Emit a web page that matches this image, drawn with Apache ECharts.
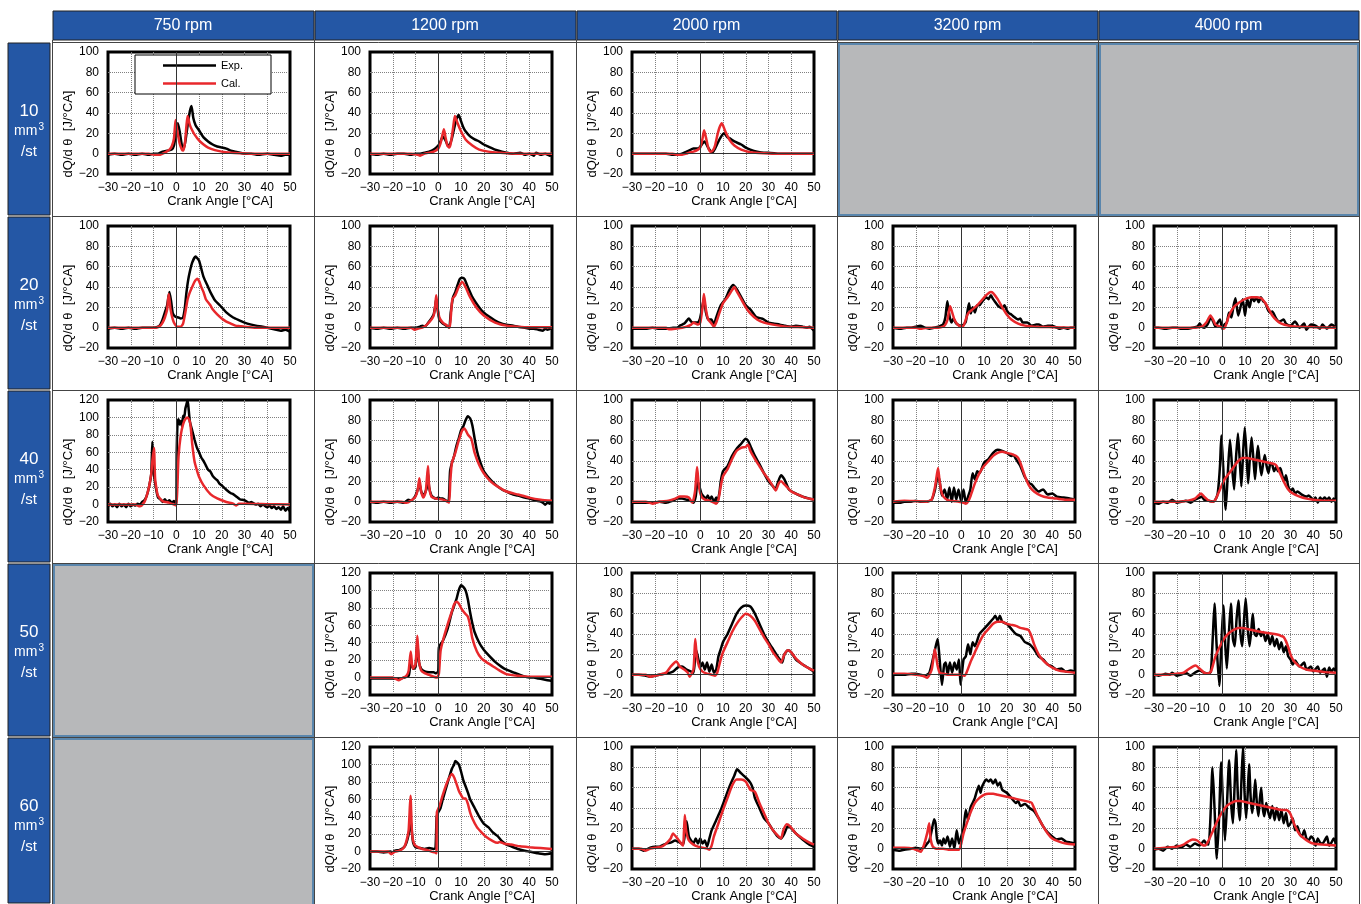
<!DOCTYPE html>
<html>
<head>
<meta charset="utf-8">
<script src="https://cdn.jsdelivr.net/npm/echarts@6/dist/echarts.min.js"></script>
<style>
html, body { margin: 0; padding: 0; background: #fff; }
#chart { width: 1361px; height: 904px; }
</style>
</head>
<body>
<div id="chart"></div>
<script>
var rpmLabels = ['750 rpm', '1200 rpm', '2000 rpm', '3200 rpm', '4000 rpm'];
var injLabels = ['10', '20', '40', '50', '60'];

// [crank angle, dQ/dθ]
var exp_10_750 = [[-30,-1],[-27,0],[-24,-1],[-21,0],[-18,-1],[-15,0],[-12,-1],[-10,0],[-8,0],[-6,2],[-4,3],[-2,4],[-1,8],[0,22],[0.7,30],[1.5,22],[2.5,8],[3.2,5],[4,12],[5,28],[6,42],[6.7,47],[7.5,35],[8.5,28],[10,23],[12,16],[14,12],[16,9],[18,7],[20,6],[22,5],[24,3],[26,2],[28,1],[30,0],[33,0],[36,-1],[40,0],[43,-1],[46,-2],[48,-1],[50,-1]];
var cal_10_750 = [[-30,0],[-20,0],[-12,0],[-9,-1],[-7,-1],[-5,1],[-3,4],[-2,7],[-1,15],[-0.3,33],[0.5,22],[1.5,10],[2.5,4],[3,3],[3.8,10],[4.5,28],[5,37],[6,28],[7,23],[8,19],[10,13],[12,9],[14,6],[17,3.5],[20,2],[24,1],[28,0.5],[35,0],[50,0]];

var exp_10_1200 = [[-30,0],[-27,-1],[-24,0],[-21,-1],[-18,0],[-15,0],[-12,-1],[-10,0],[-8,0],[-6,1],[-4,2],[-2,4],[0,8],[1,12],[2,17],[3,14],[4,9],[4.8,8],[6,15],[7,25],[8,34],[9,38],[10,32],[11,26],[12,22],[14,17],[16,14],[18,12],[20,9],[22,7],[25,4],[28,2],[30,1],[33,0],[36,1],[38,-1],[40,0],[42,-2],[43,1],[45,-1],[47,0],[49,-2],[50,-1]];
var cal_10_1200 = [[-30,0],[-20,0],[-12,0],[-9,-1],[-8,-2],[-6,0],[-4,1],[-2,2],[0,5],[1,10],[2,20],[2.5,24],[3.2,16],[4,8],[4.8,6],[5.5,10],[6.5,25],[7.3,37],[8.5,30],[10,22],[12,14],[15,8],[18,4],[22,2],[27,1],[35,0],[50,0]];

var exp_10_2000 = [[-30,0],[-25,0],[-20,0],[-15,0],[-12,-1],[-10,-1],[-8,0],[-6,2],[-5,3],[-3,5],[-1,5],[0,7],[1,10],[1.9,12],[3,8],[4,4],[5.3,1],[6.5,5],[8,12],[9.5,18],[10.5,20],[12,16],[13,15],[15,12],[18,9],[20,6],[22,4],[25,2],[28,1],[30,1],[35,0],[40,0],[45,0],[50,0]];
var cal_10_2000 = [[-30,0],[-20,0],[-12,0],[-10,-1],[-8,-1],[-6,0],[-5,1],[-3,2],[-1,4],[0,6],[1,15],[1.7,23],[2.5,16],[3.5,6],[4.5,2],[5.5,3],[6.5,8],[7.5,18],[8.5,26],[9.5,30],[11,22],[13,13],[15,8],[18,4],[22,1.5],[28,0.5],[35,0],[50,0]];

var exp_20_750 = [[-30,-1],[-27,0],[-24,-1],[-21,0],[-18,-1],[-15,0],[-12,0],[-10,0],[-8,1],[-7,3],[-6,8],[-5,15],[-4,22],[-3,35],[-2.2,25],[-1.5,14],[-0.5,11],[1,10],[2,9],[3,10],[3.8,20],[4.5,35],[5.5,50],[7,64],[8.5,70],[10,66],[11,58],[12,50],[14,40],[15,35],[17,27],[20,20],[22,15],[25,10],[28,7],[30,5],[33,3],[35,2],[38,1],[40,0],[42,-1],[44,-2],[46,-3],[48,-2],[50,-4]];
var cal_20_750 = [[-30,0],[-20,0],[-12,0],[-9,0],[-7,2],[-6,5],[-5,10],[-4,18],[-3.3,33],[-2.5,18],[-1.5,8],[-0.5,3],[0.5,1],[2,1],[3,4],[4,15],[5,28],[6,35],[7,40],[8,45],[9.3,48],[10,46],[11,40],[12,35],[13,28],[15,22],[16,18],[18,13],[20,9],[22,6],[24,4],[26,2],[28,1.5],[30,1],[35,0],[50,0]];

var exp_20_1200 = [[-30,0],[-27,-1],[-24,0],[-21,-1],[-18,0],[-15,-1],[-12,0],[-10,0],[-8,1],[-7,2],[-6,1],[-5,3],[-4,6],[-3,9],[-2,13],[-1.3,22],[-0.9,28],[-0.3,18],[0.5,8],[2,4],[3.5,2],[4.8,0],[5.5,15],[6.5,30],[7.5,35],[8.5,42],[9.5,48],[10.5,49],[11.5,48],[13,40],[15,30],[17,23],[19,17],[21,13],[23,10],[25,7],[28,4],[30,3],[33,2],[35,1],[38,0],[40,-1],[42,-1],[44,-2],[46,-3],[47,-1],[48,-2],[50,0]];
var cal_20_1200 = [[-30,0],[-20,0],[-12,0],[-10.4,-2],[-9,-1],[-7,0],[-5,3],[-3,8],[-2,12],[-1.3,22],[-0.9,32],[-0.3,20],[0.5,10],[2,5],[4,2],[5,0],[5.5,10],[6.2,28],[7.5,32],[9,40],[10.5,45],[12,40],[14,30],[17,19],[20,12],[25,5],[30,2],[35,1],[40,0.5],[50,0.5]];

var exp_20_2000 = [[-30,-1],[-27,-1],[-24,-1],[-21,0],[-18,-1],[-15,-1],[-12,0],[-10,0],[-9,2],[-7,4],[-5,9],[-4,6],[-3,5],[-1,5],[0,10],[1,22],[1.6,28],[2.5,15],[3.5,8],[4.9,8],[6,3],[7,10],[9,22],[11,28],[13,38],[14.5,42],[16,38],[18,30],[20,22],[22,18],[24,12],[25,10],[27,9],[28,8],[30,5],[32,4],[35,3],[37,2],[40,1],[42,2],[45,1],[47,0],[48,1],[50,-3]];
var cal_20_2000 = [[-30,0],[-20,0],[-15,0],[-13.8,-1.5],[-11,-1],[-8,0],[-6,1],[-4,3],[-3,5],[-2,4],[-1,3],[0,5],[1,20],[1.6,33],[2.5,18],[3.5,8],[5,4],[6,1],[7,5],[8.5,15],[10,24],[12,30],[14,37],[15,40],[16,36],[18,28],[20,20],[22,14],[25,8],[28,5],[32,3],[38,1],[45,0.5],[50,0]];

var exp_20_3200 = [[-30,0],[-27,-1],[-24,0],[-22,0],[-20,1],[-18,2],[-16,0],[-14,-1],[-12,0],[-10,1],[-8,3],[-7,10],[-6.1,26],[-5.2,12],[-4.3,5],[-3.4,9],[-2.5,5],[-1.5,3],[0,2],[1,3],[2,6],[3.4,24],[4.2,14],[5,20],[6,15],[7,22],[8,22],[9,25],[10,28],[11,30],[12,28],[13,32],[14,28],[15,25],[16,22],[17,20],[18,19],[19,22],[20,17],[21,14],[22,13],[23,11],[25,8],[26,9],[27,5],[29,5],[31,2],[33,3],[34,3],[36,1],[38,2],[40,2],[42,0],[43,-1],[45,0],[47,-1],[48,0],[50,0]];
var cal_20_3200 = [[-30,0],[-25,0],[-20,0],[-18,-1],[-15,0],[-10,0],[-8,1],[-7,3],[-6,8],[-5.5,15],[-4.9,21],[-4,15],[-3,8],[-2,4],[-1,2],[0,1],[1,2],[2,8],[3,14],[5,18],[7,22],[9,27],[11,32],[13,35],[14,34],[16,28],[18,20],[20,13],[22,8],[25,4],[28,2],[32,1],[40,0.5],[50,0]];

var exp_20_4000 = [[-30,0],[-28,0],[-25,-1],[-22,0],[-20,0],[-18,-1],[-15,-1],[-13,0],[-11,1],[-9.9,4],[-9,1],[-8,0],[-6.5,3],[-5,10],[-4,6],[-3,1],[-2,5],[-1,8],[0,-1],[1,3],[2,5],[3,15],[4,10],[5,22],[5.8,29],[7,12],[8,20],[9,28],[10,12],[11,28],[12,20],[13,30],[14,26],[15,30],[16,25],[17,30],[18,26],[19,24],[20,18],[21,15],[22,16],[23,12],[24,8],[25,6],[27,8],[28,4],[30,2],[32,6],[34,0],[36,4],[37,-2],[39,3],[41,2],[43,-1],[44,3],[46,-1],[48,3],[50,0]];
var cal_20_4000 = [[-30,0],[-20,0],[-12,0],[-9,1],[-7,5],[-5.2,12],[-4,8],[-3,3],[-2,2],[-1,1],[0,0],[0.7,-1],[1.5,2],[3,12],[5,20],[7,24],[9,27],[11,29],[13,30],[15,30],[17,29],[18,27],[19,24],[20,20],[22,12],[24,7],[26,4],[29,2],[33,1],[40,0.5],[50,0]];

var exp_40_750 = [[-30,-2],[-29,1],[-28,-2],[-27,0],[-26,-3],[-25,1],[-24,-2],[-23,0],[-22,-3],[-21,1],[-20,-2],[-19,0],[-18,-1],[-17,1],[-16,0],[-15,3],[-14,5],[-13,10],[-12,20],[-11,35],[-10.5,72],[-10,40],[-9,20],[-8,8],[-7,6],[-6,3],[-5,6],[-4,3],[-3,5],[-2,2],[-1,4],[0,0],[0.2,60],[0.6,95],[1,98],[1.5,92],[2,96],[2.5,90],[3,102],[3.5,100],[4,110],[4.5,115],[5,120],[5.5,108],[6,95],[7,85],[8,75],[9,66],[10,60],[11,54],[12,50],[13,45],[14,40],[15,38],[16,33],[17,30],[18,28],[19,24],[20,22],[22,17],[24,13],[25,12],[27,8],[28,6],[30,5],[32,2],[33,3],[35,0],[36,1],[37,-2],[38,0],[40,-3],[41,-1],[42,-4],[43,-2],[44,-5],[45,-3],[46,-6],[47,-2],[48,-7],[49,-4],[50,-8]];
var cal_40_750 = [[-30,0],[-25,0],[-18,0],[-16,-2],[-14,3],[-13,10],[-12,20],[-11,35],[-10.5,50],[-9.8,65],[-9.3,30],[-8.5,15],[-8,10],[-6,4],[-3,2],[-1,0],[0,-1],[0.5,20],[1,55],[2,80],[3,92],[4,98],[5,100],[6,95],[6.5,85],[7,70],[8,50],[9,40],[10,32],[12,22],[15,12],[18,7],[22,3],[25,1],[26.4,-1],[27.5,1],[30,1],[40,0.5],[50,0]];

var exp_40_1200 = [[-30,0],[-27,-1],[-24,0],[-21,-1],[-18,0],[-15,-1],[-13.2,2],[-12,1],[-10,6],[-9,12],[-8.3,18],[-7.5,10],[-6.5,6],[-5,14],[-4.5,28],[-4,14],[-3,6],[-2,4],[-1,3],[0,4],[1,3],[2,3],[3.5,1],[4.5,0],[5.2,30],[6,38],[7,45],[8,55],[9,62],[10,70],[11,74],[12,80],[13,84],[14,82],[15,75],[16,62],[17,50],[18,42],[20,30],[22,24],[25,17],[28,12],[30,10],[33,7],[35,6],[38,4],[40,3],[43,1],[45,0],[46,-1],[47,-3],[48,-1],[49,-2],[50,1]];
var cal_40_1200 = [[-30,0],[-20,0],[-16,0],[-14,-1],[-12,1],[-10,5],[-9,12],[-8.3,23],[-7.5,10],[-6.5,4],[-5.5,10],[-4.5,35],[-4,15],[-3,5],[-1,3],[2,2],[4,0],[4.8,-1],[5.3,20],[6,38],[7.5,48],[9,60],[10.5,70],[11.5,72],[13,66],[14.5,62],[16,48],[18,36],[20,28],[23,20],[26,15],[30,10],[35,7],[40,4],[45,2],[50,1]];

var exp_40_2000 = [[-30,-1],[-27,-1],[-24,-1],[-21,-1],[-18,0],[-15,-1],[-12,1],[-10,3],[-8,3],[-6,2],[-5,2],[-3,-1],[-2,5],[-1.2,20],[-0.5,16],[0.5,8],[1.5,5],[2.5,3],[3.3,6],[4.2,2],[5,5],[6,0],[7,4],[7.5,-1],[8.5,10],[9,20],[10,30],[12,35],[14,45],[16,52],[18,57],[20,62],[21,60],[22,55],[24,45],[26,37],[28,28],[30,20],[32,15],[33,12],[34,18],[35.5,26],[37,22],[39,12],[42,8],[45,5],[48,3],[50,2]];
var cal_40_2000 = [[-30,0],[-24,0],[-21,-2],[-18,0],[-14,1],[-11,3],[-9,5],[-7,5],[-5,4],[-3.5,-1],[-2.3,10],[-1.4,34],[-0.6,15],[0.5,5],[2,2],[4,1],[6,-1],[7,-2],[8,2],[9,15],[10,25],[12,32],[14,42],[16,50],[18,53],[20,54],[21,56],[22,50],[24,42],[26,35],[28,28],[30,22],[32,15],[33.2,11],[34.5,18],[35.5,20],[37,17],[40,10],[43,7],[46,4],[50,2]];

var exp_40_3200 = [[-30,-1],[-27,-1],[-25,0],[-22,0],[-20,1],[-18,0],[-15,0],[-13,2],[-11.5,12],[-10.3,26],[-9.5,20],[-8.5,6],[-7.3,12],[-6.2,2],[-5.2,14],[-4.2,0],[-3.2,14],[-2.2,2],[-1.2,12],[0,0],[1,12],[2,-1],[3,5],[4,12],[5,28],[6,22],[7,30],[8,28],[10,38],[12,42],[14,48],[16,51],[18,50],[20,48],[22,45],[23,46],[24,42],[26,35],[28,24],[30,18],[31,17],[32,14],[34,10],[35,11],[36,12],[38,7],[40,8],[42,5],[45,4],[48,3],[50,2]];
var cal_40_3200 = [[-30,0],[-25,1],[-20,0.5],[-15,0],[-13,2],[-11.5,15],[-10.2,33],[-9.5,20],[-8.5,8],[-7,3],[-5,1],[-3,0.5],[-1,0],[1,-1],[2,-2],[3,0],[4,5],[6,18],[8,28],[10,35],[12,40],[14,45],[16,48],[18,49],[20,48],[22,47],[24,45],[25,43],[26,38],[28,25],[30,15],[32,10],[35,6],[38,4],[42,3],[46,2],[50,2]];

var exp_40_4000 = [[-30,-1],[-28,-2],[-26,0],[-24,-1],[-22,2],[-20,-1],[-18,0],[-16,1],[-14,-1],[-12,2],[-10,4],[-9,5],[-8,2],[-6,1],[-4,0],[-3,2],[-2,8],[-1,35],[-0.4,65],[0.4,35],[1.5,-8],[2.5,30],[3.4,61],[4.3,35],[5.2,12],[6.1,45],[6.9,67],[7.7,40],[8.4,15],[9.2,50],[9.9,73],[10.7,45],[11.4,18],[12.2,45],[12.9,63],[13.7,42],[14.4,22],[15.1,42],[15.7,55],[16.4,40],[17.2,26],[18,38],[18.7,46],[19.5,35],[20.3,28],[21.2,38],[22,36],[22.8,30],[23.7,34],[24.5,30],[25.5,33],[26.5,25],[27.3,20],[28,26],[29,15],[30,10],[31,13],[32,8],[33,10],[35,7],[37,5],[38,6],[40,2],[41,4],[42,-1],[43,4],[44,2],[45,4],[46,2],[47,4],[48,0],[49,3],[50,-1]];
var cal_40_4000 = [[-30,0],[-20,0],[-15,1],[-12,3],[-9.3,8],[-8,5],[-6,1],[-4,0],[-3,2],[-1,12],[1,22],[3,28],[5,34],[7,40],[9,43],[11,43],[13,42],[15,41],[17,40],[19,39],[21,38],[23,37],[24,35],[25,30],[27,20],[29,12],[31,8],[34,5],[37,3],[40,2],[45,1],[50,1]];

var exp_50_1200 = [[-30,-1],[-27,-1],[-24,-1],[-21,-1],[-18,-1],[-17.5,-2],[-15,0],[-13,2],[-12.5,10],[-12,18],[-11,10],[-10,12],[-9.2,40],[-8.5,18],[-7.5,10],[-6,7],[-4,6],[-2,6],[-1,5],[0,7],[0.3,35],[2,42],[4,55],[6,75],[8,90],[9,100],[10,106],[11,104],[12,100],[13,90],[14,75],[15,62],[16,52],[18,40],[20,32],[22,26],[25,18],[28,12],[30,9],[33,6],[36,3],[40,0],[42,0],[44,-1],[46,-2],[48,-3],[50,-4]];
var cal_50_1200 = [[-30,0],[-20,0],[-17.5,-3],[-16,-1],[-14,2],[-13,8],[-12.1,30],[-11.2,10],[-10,15],[-9.2,48],[-8.5,20],[-7.5,8],[-6,5],[-4,3],[-2,1],[-0.5,0],[0.3,5],[1,30],[2,42],[4,60],[6,76],[7,84],[8,87],[9,85],[10,80],[11,76],[12,73],[13,70],[14,60],[15,45],[17,30],[19,22],[21,18],[24,13],[27,8],[30,4],[35,2],[40,1],[50,1]];

var exp_50_2000 = [[-30,0],[-27,0],[-24,-1],[-22,-2],[-20,-1],[-18,0],[-15,1],[-12,3],[-10,7],[-8,8],[-6,5],[-4,3],[-3,2],[-2.5,10],[-2,25],[-1.3,20],[-0.5,12],[0.3,8],[1,12],[2,5],[3,12],[4,3],[5,10],[6,2],[7,5],[8,18],[9,25],[10,32],[12,40],[14,50],[16,60],[18,66],[20,68],[22,67],[24,60],[26,50],[28,40],[30,32],[32,25],[34,18],[35,15],[36,12],[37,20],[38.5,24],[40,22],[42,15],[45,10],[48,6],[50,3]];
var cal_50_2000 = [[-30,0],[-24,0],[-22,-2],[-18,0],[-15,2],[-13,8],[-10.5,13],[-9,8],[-7,5],[-5.5,2],[-4.7,-2],[-3,5],[-2.2,35],[-1.5,18],[-0.5,8],[1,3],[3,1],[5,0],[6.5,-1],[7.5,2],[9,15],[10,22],[12,32],[14,42],[16,50],[18,56],[20,60],[22,58],[24,53],[26,45],[28,37],[30,30],[32,22],[34,16],[35.5,12],[37,20],[38.5,24],[40,22],[42,16],[45,10],[48,6],[50,4]];

var exp_50_3200 = [[-30,0],[-27,0],[-25,0],[-22,1],[-20,1],[-18,0],[-16,-1],[-14,2],[-12,20],[-10.4,35],[-9.5,15],[-8.5,-10],[-7.5,10],[-6.8,12],[-6,0],[-5,12],[-4,2],[-3,12],[-2,5],[-1,15],[-0.3,-10],[1,15],[2,18],[3,30],[4,20],[5,32],[6,28],[8,40],[10,45],[12,50],[14,55],[15,58],[16,53],[17,58],[18,52],[20,50],[22,45],[24,40],[26,38],[28,32],[30,30],[32,25],[34,18],[36,15],[38,10],[40,8],[42,5],[44,6],[46,3],[48,4],[50,3]];
var cal_50_3200 = [[-30,1],[-25,1],[-20,0],[-17,-1],[-15,-3],[-13,5],[-12,20],[-11.6,25],[-10.5,10],[-9.5,2],[-8,1],[-6,0],[-3,0],[0,0],[1.5,-1],[2.5,3],[4,12],[6,22],[8,32],[10,40],[12,45],[14,50],[16,52],[18,52],[20,50],[22,49],[24,48],[26,46],[28,45],[29.5,44],[30.5,40],[32,30],[34,20],[36,14],[38,10],[40,7],[43,4],[46,3],[50,2]];

var exp_50_4000 = [[-30,0],[-28,-1],[-26,0],[-25,1],[-23,0],[-22,2],[-20,-1],[-18,0],[-16,2],[-14,-1],[-12,2],[-10,4],[-8,2],[-6,1],[-5,3],[-4.2,35],[-3.4,70],[-2.5,30],[-1.3,-11],[-0.4,30],[0.5,68],[1.3,30],[2,6],[2.9,40],[3.8,70],[4.7,35],[5.5,28],[6.3,55],[7.1,73],[8,40],[8.8,28],[9.6,55],[10.3,75],[11.2,45],[12,28],[12.8,45],[13.4,60],[14.2,40],[15,38],[16,45],[17,38],[18,42],[19,33],[20,40],[21,30],[22,38],[23,28],[24,35],[25,25],[26,32],[27,22],[28,28],[29,18],[30,15],[31,10],[32,14],[34,8],[36,12],[37,5],[39,8],[40,3],[42,8],[43,2],[45,6],[46,-2],[47,7],[48,3],[49,6],[50,3]];
var cal_50_4000 = [[-30,0],[-25,0],[-20,1],[-17,2],[-15,5],[-13,8],[-11.6,9],[-10,6],[-8,2],[-6.5,1],[-5,3],[-4,10],[-3,18],[-1,28],[1,36],[3,41],[5,44],[7,46],[9,46],[11,45],[13,44],[15,43],[17,42],[20,41],[23,40],[25,39],[26,38],[27,37],[28,33],[29,27],[30,20],[31,15],[32,12],[34,8],[37,5],[40,4],[45,2.5],[50,2]];

var exp_60_1200 = [[-30,0],[-27,0],[-24,-1],[-21,0],[-20,-1],[-19,1],[-17,2],[-15,5],[-14,10],[-13,20],[-12,34],[-11.5,20],[-11,10],[-10,5],[-8,4],[-6,3],[-4,4],[-2,3],[-1.2,4],[-0.7,40],[0,45],[1,50],[2,60],[4,78],[6,95],[7,100],[7.5,104],[9,100],[10,92],[11,82],[12,75],[13,68],[14,60],[16,50],[18,40],[20,32],[22,28],[24,22],[26,18],[28,12],[30,8],[32,6],[35,3],[38,1],[40,0],[42,-1],[44,-2],[47,-3],[50,-2]];
var cal_60_1200 = [[-30,0],[-22,0],[-20.7,-3],[-19,0],[-17,1],[-15,5],[-14,12],[-13,25],[-12.2,64],[-11.5,20],[-10.5,8],[-9,5],[-7,3],[-5,2],[-3,0],[-1.5,-1],[-0.8,-2],[-0.6,45],[0.5,52],[2,65],[4,80],[6,89],[7,85],[8,78],[9,70],[10,65],[11,61],[12,61],[13,55],[14,45],[15,38],[17,28],[19,22],[21,17],[24,12],[26,10],[27,11],[29,9],[32,8],[36,6],[40,5],[45,4],[50,3]];

var exp_60_2000 = [[-30,0],[-27,0],[-25,-2],[-22,1],[-20,2],[-18,2],[-15,5],[-13,6],[-11,8],[-9,6],[-7.5,4],[-6.5,20],[-6,27],[-5,12],[-4,8],[-3,5],[-2,10],[-1,5],[0,10],[1,5],[2,8],[3,2],[4,10],[5,18],[7,28],[9,38],[11,50],[13,62],[15,72],[16.2,78],[18,74],[20,70],[22,65],[23,60],[24,50],[26,40],[28,30],[30,25],[32,18],[34,12],[35.5,10],[37,15],[38.5,22],[40,20],[42,15],[45,9],[48,4],[50,2]];
var cal_60_2000 = [[-30,0],[-26,0],[-24,-2],[-22,0],[-20,1],[-17,2],[-15,5],[-13,10],[-12,15],[-10,10],[-8,4],[-7.5,3],[-7.2,15],[-6.8,33],[-6.2,18],[-5,8],[-3,4],[-1,2],[1,1],[3,0],[4,-1],[5,3],[6,12],[8,25],[10,38],[12,50],[14,62],[16,68],[18,68],[20,66],[21,62],[22,58],[24,56],[26,45],[28,35],[30,25],[32,18],[34,13],[35.5,10],[36.5,18],[38,24],[39.5,22],[42,15],[45,10],[48,6],[50,4]];

var exp_60_3200 = [[-30,-1],[-27,-2],[-25,-1],[-22,0],[-20,1],[-18,0],[-16,2],[-15,5],[-14,8],[-13,18],[-11.9,29],[-11.3,25],[-10.7,10],[-10,5],[-9.3,8],[-8.5,3],[-7.8,10],[-7,5],[-6,12],[-5,2],[-4,10],[-3,0],[-2,18],[-1,5],[0,12],[1,20],[2,38],[3,28],[4,40],[5,45],[6,50],[7.7,62],[8.5,55],[9,60],[10,65],[11,68],[12,66],[13,68],[14,64],[15,68],[16,62],[17,65],[18,58],[20,55],[22,50],[24,45],[25,47],[26,42],[28,44],[30,40],[32,37],[34,30],[36,22],[38,16],[40,12],[42,9],[44,10],[46,7],[48,6],[50,5]];
var cal_60_3200 = [[-30,1],[-25,1],[-21,0],[-17.8,-3],[-16.5,3],[-15,15],[-14.1,25],[-13.5,10],[-12.5,2],[-11,0],[-8,0],[-5,-1],[-1,-1],[0,5],[1,15],[2,22],[4,35],[6,45],[8,50],[10,53],[12,54],[14,54],[16,53],[18,52],[20,51],[22,50],[24,49],[26,48],[28,47],[30,46],[31,45],[32,40],[34,30],[36,22],[38,15],[40,10],[43,7],[46,5],[50,4]];

var exp_60_4000 = [[-30,-1],[-28,0],[-26,-2],[-24,2],[-22,0],[-20,3],[-18,1],[-16,4],[-14,2],[-12,5],[-10,3],[-8,8],[-7,5],[-6,4],[-5.2,30],[-4.3,80],[-3.4,40],[-2.4,-10],[-1.4,30],[-0.5,85],[0.4,40],[1.2,8],[2.1,45],[3,87],[3.9,45],[4.7,25],[5.4,60],[6.1,97],[6.9,50],[7.7,28],[8.4,65],[9.1,100],[9.8,55],[10.5,30],[11.2,55],[11.8,83],[12.5,50],[13.2,35],[13.9,50],[14.5,68],[15.2,45],[15.9,32],[16.5,48],[17.1,60],[17.8,40],[18.5,32],[19.3,45],[20,38],[21,30],[22,42],[23,28],[24,40],[25,28],[26,38],[27,25],[28,35],[29,22],[30,25],[31,30],[32,18],[33,22],[34,15],[35,12],[36,18],[37,10],[38,8],[39,12],[40,10],[41,3],[42,10],[43,6],[44,5],[45,8],[46,12],[47,3],[48,6],[49,10],[50,5]];
var cal_60_4000 = [[-30,0],[-25,1],[-20,2],[-17,4],[-15,7],[-13,9],[-11,8],[-9,4],[-7.5,3],[-6,8],[-4,18],[-2,28],[0,36],[2,42],[4,45],[6,47],[8,47],[10,46],[12,45],[14,44],[16,43],[18,42],[20,41],[22,40],[24,39],[26,38],[28,38],[29,37],[30,34],[31,28],[32,22],[34,14],[36,10],[38,7],[40,5],[44,4],[50,3]];

// which cell holds which plot
var panels = [
  { row: 0, col: 0, ymax: 100, exp: exp_10_750, cal: cal_10_750 },
  { row: 0, col: 1, ymax: 100, exp: exp_10_1200, cal: cal_10_1200 },
  { row: 0, col: 2, ymax: 100, exp: exp_10_2000, cal: cal_10_2000 },
  { row: 1, col: 0, ymax: 100, exp: exp_20_750, cal: cal_20_750 },
  { row: 1, col: 1, ymax: 100, exp: exp_20_1200, cal: cal_20_1200 },
  { row: 1, col: 2, ymax: 100, exp: exp_20_2000, cal: cal_20_2000 },
  { row: 1, col: 3, ymax: 100, exp: exp_20_3200, cal: cal_20_3200 },
  { row: 1, col: 4, ymax: 100, exp: exp_20_4000, cal: cal_20_4000 },
  { row: 2, col: 0, ymax: 120, exp: exp_40_750, cal: cal_40_750 },
  { row: 2, col: 1, ymax: 100, exp: exp_40_1200, cal: cal_40_1200 },
  { row: 2, col: 2, ymax: 100, exp: exp_40_2000, cal: cal_40_2000 },
  { row: 2, col: 3, ymax: 100, exp: exp_40_3200, cal: cal_40_3200 },
  { row: 2, col: 4, ymax: 100, exp: exp_40_4000, cal: cal_40_4000 },
  { row: 3, col: 1, ymax: 120, exp: exp_50_1200, cal: cal_50_1200 },
  { row: 3, col: 2, ymax: 100, exp: exp_50_2000, cal: cal_50_2000 },
  { row: 3, col: 3, ymax: 100, exp: exp_50_3200, cal: cal_50_3200 },
  { row: 3, col: 4, ymax: 100, exp: exp_50_4000, cal: cal_50_4000 },
  { row: 4, col: 1, ymax: 120, exp: exp_60_1200, cal: cal_60_1200 },
  { row: 4, col: 2, ymax: 100, exp: exp_60_2000, cal: cal_60_2000 },
  { row: 4, col: 3, ymax: 100, exp: exp_60_3200, cal: cal_60_3200 },
  { row: 4, col: 4, ymax: 100, exp: exp_60_4000, cal: cal_60_4000 }
];
var emptyCells = [[0, 3], [0, 4], [3, 0], [4, 0]];

var colX = [52, 314, 576, 837, 1098, 1359];
var rowY = [42, 216, 390, 563, 737, 911];
var BLUE = '#2457a5';
var RED = '#e8282c';
var FONT = '"Liberation Sans", Arial, sans-serif';

function tickFmt(v) {
  return v < 0 ? '\u2212' + (-v) : String(v);
}

var chart = echarts.init(document.getElementById('chart'));

var grids = [], xAxes = [], yAxes = [], series = [];
panels.forEach(function (p, i) {
  grids.push({
    left: colX[p.col] + 56, top: rowY[p.row] + 10, width: 182, height: 122,
    show: true, borderColor: '#000', borderWidth: 3,
    containLabel: false, outerBoundsMode: 'none'
  });
  xAxes.push({
    gridIndex: i, type: 'value', min: -30, max: 50, interval: 10,
    axisLine: { show: false }, axisTick: { show: false },
    splitLine: { show: true, showMinLine: false, showMaxLine: false,
      lineStyle: { color: '#808080', type: 'dotted', width: 1 } },
    axisLabel: { color: '#000', fontSize: 12, fontFamily: FONT, margin: 8, formatter: tickFmt },
    name: 'Crank Angle [°CA]', nameLocation: 'middle', nameGap: 20,
    nameTextStyle: { color: '#000', fontSize: 13, fontFamily: FONT, padding: [0, 0, 0, 42] }
  });
  yAxes.push({
    gridIndex: i, type: 'value', min: -20, max: p.ymax, interval: 20,
    axisLine: { show: false }, axisTick: { show: false },
    splitLine: { show: true, showMinLine: false, showMaxLine: false,
      lineStyle: { color: '#808080', type: 'dotted', width: 1 } },
    axisLabel: { color: '#000', fontSize: 12, fontFamily: FONT, margin: 9, formatter: tickFmt },
    name: 'dQ/d θ  [J/°CA]', nameLocation: 'middle', nameGap: 31,
    nameTextStyle: { color: '#000', fontSize: 13, fontFamily: FONT, padding: [0, 42, 0, 0] }
  });
  series.push({
    name: 'Exp.', type: 'line', xAxisIndex: i, yAxisIndex: i, data: p.exp,
    symbol: 'none', smooth: 0.2, lineStyle: { color: '#000', width: 2.5 },
    itemStyle: { color: '#000' },
    markLine: {
      silent: true, symbol: 'none', label: { show: false },
      lineStyle: { color: '#333', width: 1, type: 'solid' },
      data: [{ xAxis: 0 }, { yAxis: 0 }]
    }
  });
  series.push({
    name: 'Cal.', type: 'line', xAxisIndex: i, yAxisIndex: i, data: p.cal,
    symbol: 'none', smooth: 0.2, lineStyle: { color: RED, width: 2.5 },
    itemStyle: { color: RED }
  });
});

// table frame, headers and blank cells
var graphics = [];
rpmLabels.forEach(function (t, c) {
  graphics.push({
    type: 'rect', z: 1,
    shape: { x: colX[c] + 1, y: 11, width: colX[c + 1] - colX[c] - 1, height: 29 },
    style: { fill: BLUE, stroke: '#222', lineWidth: 1 }
  });
  graphics.push({
    type: 'text', z: 2, x: (colX[c] + colX[c + 1]) / 2, y: 26,
    style: { text: t, fill: '#fff', font: '16px ' + FONT, align: 'center', verticalAlign: 'middle' }
  });
});
injLabels.forEach(function (t, r) {
  var top = rowY[r] + 1;
  var h = Math.min(rowY[r + 1], 904) - rowY[r] - 2;
  var cy = rowY[r] + 86;
  graphics.push({
    type: 'rect', z: 1, shape: { x: 8, y: top, width: 42, height: h },
    style: { fill: BLUE, stroke: '#222', lineWidth: 1 }
  });
  graphics.push({
    type: 'text', z: 2, x: 29, y: cy - 17,
    style: { text: t, fill: '#fff', font: '17px ' + FONT, align: 'center', verticalAlign: 'middle' }
  });
  graphics.push({
    type: 'text', z: 2, x: 29, y: cy + 3,
    style: {
      text: '{n|mm}{s|3}', align: 'center', verticalAlign: 'middle',
      rich: {
        n: { fill: '#fff', fontSize: 14, fontFamily: FONT },
        s: { fill: '#fff', fontSize: 10, fontFamily: FONT, padding: [0, 0, 7, 1] }
      }
    }
  });
  graphics.push({
    type: 'text', z: 2, x: 29, y: cy + 24,
    style: { text: '/st', fill: '#fff', font: '15px ' + FONT, align: 'center', verticalAlign: 'middle' }
  });
});
rowY.slice(0, 5).forEach(function (y) {
  graphics.push({
    type: 'line', z: 0, shape: { x1: 52, y1: y + 0.5, x2: 1359, y2: y + 0.5 },
    style: { stroke: '#444', lineWidth: 1 }
  });
});
colX.forEach(function (x) {
  graphics.push({
    type: 'line', z: 0, shape: { x1: x + 0.5, y1: 40, x2: x + 0.5, y2: 904 },
    style: { stroke: '#444', lineWidth: 1 }
  });
});
emptyCells.forEach(function (rc) {
  var r = rc[0], c = rc[1];
  graphics.push({
    type: 'rect', z: 1,
    shape: { x: colX[c] + 2, y: rowY[r] + 2, width: colX[c + 1] - colX[c] - 3, height: rowY[r + 1] - rowY[r] - 3 },
    style: { fill: '#b7b8ba', stroke: '#5a86ad', lineWidth: 2 }
  });
});

chart.setOption({
  animation: false,
  backgroundColor: '#fff',
  textStyle: { fontFamily: FONT },
  legend: {
    data: [
      { name: 'Exp.', icon: 'rect', itemStyle: { color: '#000' } },
      { name: 'Cal.', icon: 'rect', itemStyle: { color: RED } }
    ],
    orient: 'vertical', left: 135, top: 55,
    padding: [4, 28, 4, 28], itemGap: 5, itemWidth: 53, itemHeight: 2.5,
    backgroundColor: '#fff', borderColor: '#000', borderWidth: 1, borderRadius: 0,
    textStyle: { color: '#000', fontSize: 11, fontFamily: FONT, lineHeight: 13 },
    selectedMode: false
  },
  graphic: graphics,
  grid: grids,
  xAxis: xAxes,
  yAxis: yAxes,
  series: series
});
</script>
</body>
</html>
